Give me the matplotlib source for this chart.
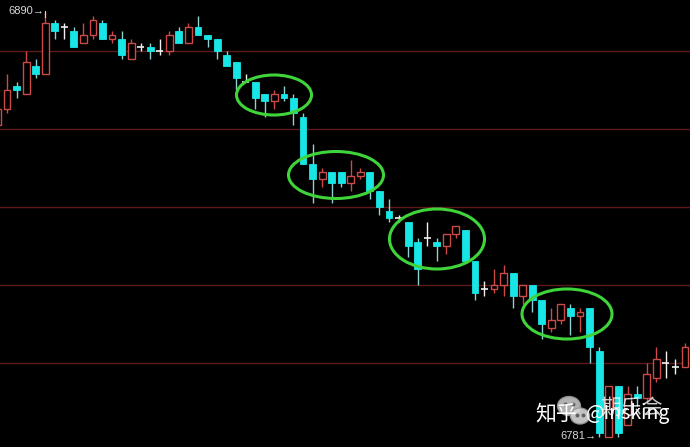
import matplotlib.pyplot as plt
from matplotlib.patches import Ellipse

# candle data (k = 0 .. 72)
opens = [6861, 6865, 6871, 6869, 6876, 6874, 6887, 6886, 6885, 6882,
         6884, 6887, 6883, 6883, 6878, 6881, 6881, 6880, 6880, 6885,
         6882, 6886, 6884, 6883, 6879, 6877, 6872, 6872, 6869, 6867,
         6869, 6868, 6863, 6851, 6847, 6849, 6849, 6846, 6848, 6849,
         6844, 6839, 6837, 6836, 6831, 6832, 6831, 6830, 6833, 6834,
         6826, 6819, 6819, 6820, 6823, 6817, 6820, 6816, 6809, 6811,
         6814, 6812, 6814, 6803, 6781, 6794, 6784, 6792, 6791, 6796,
         6800, 6799, 6799]
highs = [6866, 6874, 6872, 6880, 6878, 6890, 6888, 6887, 6886, 6887,
         6889, 6888, 6885, 6885, 6883, 6882, 6882, 6883, 6885, 6886,
         6887, 6889, 6884, 6883, 6880, 6877, 6874, 6872, 6869, 6870,
         6871, 6869, 6864, 6856, 6850, 6849, 6849, 6852, 6850, 6849,
         6844, 6842, 6838, 6836, 6832, 6836, 6832, 6833, 6835, 6834,
         6826, 6821, 6824, 6825, 6823, 6820, 6820, 6816, 6814, 6815,
         6815, 6814, 6814, 6804, 6794, 6794, 6794, 6794, 6800, 6804,
         6803, 6801, 6805]
lows = [6860, 6864, 6868, 6869, 6873, 6874, 6883, 6883, 6881, 6882,
        6883, 6883, 6882, 6878, 6878, 6880, 6878, 6879, 6879, 6882,
        6882, 6884, 6881, 6878, 6876, 6870, 6872, 6865, 6863, 6865,
        6867, 6861, 6851, 6841, 6845, 6841, 6845, 6844, 6847, 6842,
        6838, 6836, 6836, 6827, 6820, 6830, 6826, 6828, 6832, 6826,
        6816, 6817, 6818, 6817, 6814, 6815, 6813, 6806, 6808, 6810,
        6807, 6808, 6800, 6781, 6781, 6781, 6784, 6789, 6790, 6795,
        6796, 6797, 6799]
closes = [6865, 6870, 6870, 6877, 6874, 6887, 6885, 6886, 6881, 6884,
          6888, 6883, 6884, 6879, 6882, 6881, 6880, 6880, 6884, 6882,
          6886, 6884, 6883, 6880, 6876, 6873, 6872, 6868, 6867, 6869,
          6868, 6864, 6851, 6847, 6849, 6846, 6846, 6848, 6849, 6844,
          6840, 6837, 6837, 6830, 6824, 6832, 6830, 6833, 6835, 6826,
          6818, 6819, 6820, 6823, 6817, 6820, 6816, 6810, 6811, 6815,
          6812, 6813, 6804, 6782, 6794, 6782, 6792, 6791, 6797, 6801,
          6800, 6799, 6804]
grid_levels = [6880, 6860, 6840, 6820, 6800]
high_label = "6890"
low_label = "6781"

UP = "#cc4a48"
DOWN = "#18e6e6"
DOWN_WICK = "#8fd0d0"
DOJI = "#f0f0f0"
W = 0.72

fig = plt.figure(figsize=(6.9, 4.47), dpi=100, facecolor="black")
ax = fig.add_axes([0, 0, 1, 1])
ax.set_facecolor("black")
ax.set_xlim(0.267, 72.52)
ax.set_ylim(6778.4, 6893.0)
ax.axis("off")

for lv in grid_levels:
    ax.axhline(lv, color="#5e1a1a", lw=1.0, zorder=0)

for i, (o, h, l, c) in enumerate(zip(opens, highs, lows, closes)):
    top, bot = max(o, c), min(o, c)
    if c > o:
        ax.vlines(i, top, h, color=UP, lw=1)
        ax.vlines(i, l, bot, color=UP, lw=1)
        ax.bar(i, top - bot, bottom=bot, width=W, facecolor="black",
               edgecolor=UP, lw=1, zorder=3)
    elif c < o:
        ax.vlines(i, l, h, color=DOWN_WICK, lw=1)
        ax.bar(i, top - bot, bottom=bot, width=W, color=DOWN,
               edgecolor=DOWN, lw=0.6, zorder=3)
    else:
        ax.vlines(i, l, h, color=DOJI, lw=1)
        ax.hlines(o, i - W / 2, i + W / 2, color=DOJI, lw=1.2)

# overlay in pixel space for the annotations
ov = fig.add_axes([0, 0, 1, 1])
ov.set_xlim(0, 690)
ov.set_ylim(447, 0)
ov.axis("off")
ov.patch.set_alpha(0)

lab = dict(family=["Liberation Sans", "DejaVu Sans"], fontsize=8,
           color="#d8d8d8", va="center")
ov.text(8, 11, high_label + "→", **lab)
ov.plot([45, 45], [11, 17], color="#d8d8d8", lw=0.8)
ov.text(560, 436, low_label + "→", **lab)

for cx, cy, w, h in [(274, 95, 75, 40), (336, 175, 95, 47),
                     (437, 239, 95, 60), (567, 314, 90, 50)]:
    ov.add_patch(Ellipse((cx, cy), w, h, fill=False,
                         edgecolor="#3ed43a", lw=2.2, zorder=5))

# watermark
ov.add_patch(Ellipse((569, 406), 23, 19, facecolor="#d0d0d0",
                     edgecolor="#9a9a9a", alpha=0.85, zorder=6))
ov.add_patch(Ellipse((580, 416), 19, 16, facecolor="#d8d8d8",
                     edgecolor="#9a9a9a", alpha=0.9, zorder=6))
for ex, ey in [(565, 404), (573, 404), (577, 415), (583, 415)]:
    ov.plot(ex, ey, "o", color="#606060", ms=1.8, zorder=7)
ov.text(600, 408, "期乐会", family=["Noto Sans CJK SC"], fontsize=15,
        color="white", alpha=0.8, va="center", zorder=6)
ov.text(535, 413, "知乎", family=["Noto Sans CJK SC"], fontsize=15,
        color="white", va="center", zorder=7)
ov.text(586, 414, "@Insking", family=["Noto Sans CJK SC", "DejaVu Sans"],
        fontsize=14, color="white", va="center", zorder=7)

fig.savefig("out.png", dpi=100, facecolor="black")
